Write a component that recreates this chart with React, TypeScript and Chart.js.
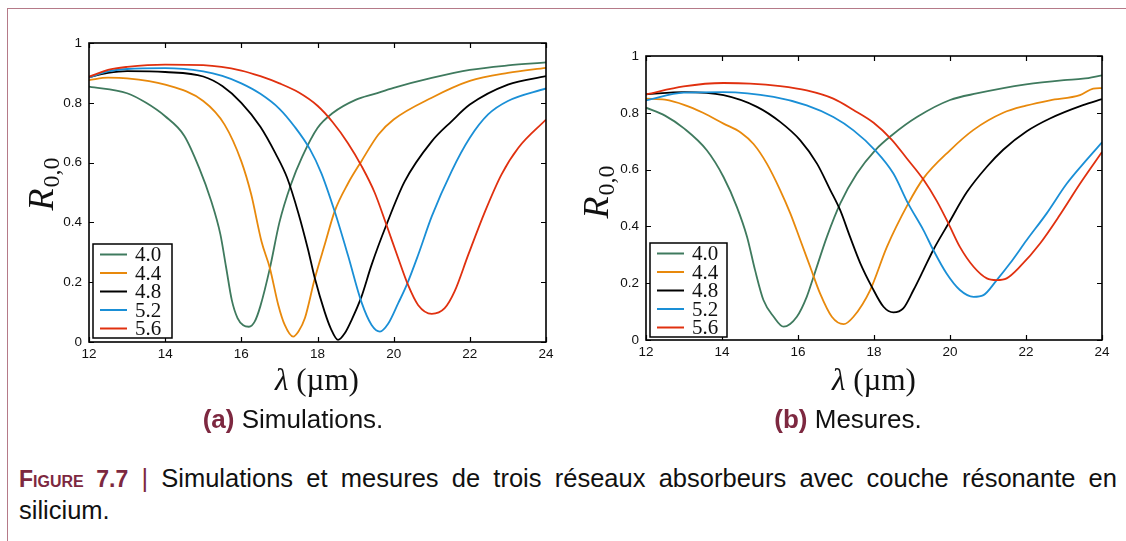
import React, { useEffect, useRef } from "react";
import { Chart, registerables } from "chart.js";

Chart.register(...registerables);

// ---------- data ----------
const seriesLabels = ["4.0", "4.4", "4.8", "5.2", "5.6"];
const seriesColors = ["#3f7a5e", "#e8890c", "#000000", "#1a8fd6", "#e0300f"];
const xTickValues = [12, 14, 16, 18, 20, 22, 24];
const yTickValues = [0, 0.2, 0.4, 0.6, 0.8, 1];

// (a) Simulations
const simX40 = [12, 13, 13.5, 14, 14.5, 14.9, 15.2, 15.45, 15.6, 15.75, 15.9, 16.05, 16.2, 16.35, 16.5, 16.75, 17.0, 17.3, 17.6, 18.0, 18.4, 19, 19.5, 20, 21, 22, 23, 24];
const simY40 = [0.854, 0.832, 0.8, 0.755, 0.69, 0.58, 0.475, 0.36, 0.25, 0.14, 0.08, 0.056, 0.051, 0.068, 0.12, 0.247, 0.4, 0.526, 0.62, 0.716, 0.766, 0.81, 0.83, 0.85, 0.883, 0.91, 0.925, 0.935];
const simX44 = [12, 12.5, 13, 14, 15, 15.56, 16.0, 16.26, 16.53, 16.75, 16.97, 17.14, 17.36, 17.5, 17.67, 17.93, 18.2, 18.45, 18.8, 19.15, 19.6, 20, 21, 22, 23, 24];
const simY44 = [0.876, 0.884, 0.882, 0.861, 0.806, 0.727, 0.604, 0.493, 0.336, 0.247, 0.124, 0.057, 0.018, 0.035, 0.08, 0.213, 0.33, 0.437, 0.53, 0.604, 0.694, 0.744, 0.817, 0.873, 0.9, 0.917];
const simX48 = [12, 12.5, 13, 14, 15, 15.5, 16, 16.5, 16.9, 17.2, 17.5, 17.75, 17.93, 18.19, 18.35, 18.54, 18.72, 18.9, 19.15, 19.42, 19.81, 20.29, 21, 21.52, 22, 23, 24];
const simY48 = [0.886, 0.9, 0.906, 0.903, 0.888, 0.856, 0.8, 0.72, 0.63, 0.55, 0.43, 0.31, 0.213, 0.1, 0.045, 0.007, 0.03, 0.075, 0.15, 0.258, 0.392, 0.537, 0.671, 0.738, 0.794, 0.861, 0.889];
const simX52 = [12, 12.5, 13, 14, 15, 15.5, 16, 16.5, 17, 17.4, 17.8, 18.1, 18.45, 18.8, 19.15, 19.42, 19.64, 19.85, 20.12, 20.34, 20.64, 21, 21.52, 22, 22.48, 23, 24];
const simY52 = [0.884, 0.905, 0.913, 0.916, 0.905, 0.89, 0.865, 0.83, 0.78, 0.72, 0.645, 0.565, 0.437, 0.29, 0.135, 0.057, 0.035, 0.06, 0.13, 0.19, 0.29, 0.42, 0.571, 0.683, 0.761, 0.806, 0.848];
const simX56 = [12, 12.5, 13, 14, 15, 16, 16.5, 17, 17.5, 18, 18.4, 18.8, 19.15, 19.5, 19.81, 20.12, 20.38, 20.64, 21, 21.34, 21.6, 21.96, 22.4, 22.83, 23.27, 24];
const simY56 = [0.887, 0.91, 0.92, 0.928, 0.926, 0.908, 0.889, 0.865, 0.835, 0.79, 0.735, 0.665, 0.59, 0.5, 0.392, 0.28, 0.19, 0.124, 0.094, 0.113, 0.169, 0.292, 0.437, 0.56, 0.649, 0.744];

// (b) Mesures
const mesX40 = [12, 12.5, 13, 13.6, 14.04, 14.39, 14.66, 14.87, 15.09, 15.36, 15.62, 15.97, 16.23, 16.41, 16.76, 17.11, 17.55, 18.03, 18.47, 19.13, 20, 20.7, 22, 23, 23.5, 24];
const mesY40 = [0.818, 0.79, 0.745, 0.668, 0.574, 0.469, 0.363, 0.246, 0.141, 0.082, 0.047, 0.082, 0.152, 0.223, 0.363, 0.48, 0.586, 0.668, 0.721, 0.785, 0.845, 0.868, 0.9, 0.915, 0.92, 0.932];
const mesX44 = [12, 12.5, 13, 13.5, 14.04, 14.5, 14.83, 15.18, 15.53, 15.8, 16.06, 16.32, 16.58, 16.89, 17.2, 17.46, 17.9, 18.34, 18.9, 19.3, 20.0, 20.61, 21.4, 22.0, 22.63, 23.42, 23.77, 24];
const mesY44 = [0.85, 0.846, 0.828, 0.8, 0.762, 0.73, 0.69, 0.621, 0.528, 0.445, 0.352, 0.258, 0.164, 0.082, 0.056, 0.082, 0.176, 0.328, 0.48, 0.569, 0.668, 0.739, 0.8, 0.825, 0.844, 0.862, 0.885, 0.887];
const mesX48 = [12, 13, 14.04, 14.92, 15.53, 16.06, 16.5, 16.85, 17.11, 17.37, 17.64, 17.94, 18.25, 18.51, 18.77, 19.04, 19.3, 19.56, 19.96, 20.44, 20.97, 21.4, 22.02, 22.63, 23.5, 24];
const mesY48 = [0.865, 0.873, 0.862, 0.821, 0.768, 0.703, 0.621, 0.528, 0.457, 0.363, 0.27, 0.188, 0.117, 0.097, 0.111, 0.176, 0.246, 0.317, 0.41, 0.52, 0.61, 0.67, 0.735, 0.78, 0.827, 0.848];
const mesX52 = [12, 12.99, 14.04, 15.36, 16.23, 16.93, 17.46, 18.03, 18.51, 18.9, 19.3, 19.56, 19.91, 20.26, 20.62, 20.88, 21.23, 21.58, 22.02, 22.54, 23.07, 23.6, 24];
const mesY52 = [0.844, 0.871, 0.873, 0.856, 0.826, 0.785, 0.738, 0.668, 0.586, 0.48, 0.387, 0.317, 0.234, 0.176, 0.152, 0.158, 0.211, 0.27, 0.352, 0.445, 0.55, 0.635, 0.696];
const mesX56 = [12, 12.99, 14.04, 14.74, 15.53, 16.23, 16.93, 17.46, 17.99, 18.47, 18.86, 19.3, 19.65, 19.96, 20.26, 20.62, 20.97, 21.23, 21.49, 21.84, 22.37, 22.89, 23.42, 24];
const mesY56 = [0.865, 0.893, 0.905, 0.903, 0.894, 0.879, 0.85, 0.81, 0.765, 0.705, 0.64, 0.565, 0.49, 0.41, 0.328, 0.258, 0.217, 0.211, 0.217, 0.258, 0.34, 0.44, 0.55, 0.662];

const simXs = [simX40, simX44, simX48, simX52, simX56];
const simYs = [simY40, simY44, simY48, simY52, simY56];
const mesXs = [mesX40, mesX44, mesX48, mesX52, mesX56];
const mesYs = [mesY40, mesY44, mesY48, mesY52, mesY56];

// ---------- styling ----------
const SANS = '"Liberation Sans", Arial, Helvetica, sans-serif';
const SERIF = '"Liberation Serif", "Times New Roman", serif';
const MAROON = "#7d2840";
const FRAME_PINK = "#b57a88";

function buildDatasets(xs: number[][], ys: number[][]) {
  return seriesLabels.map((label, i) => ({
    label,
    data: xs[i].map((x, j) => ({ x, y: ys[i][j] })),
    borderColor: seriesColors[i],
    backgroundColor: seriesColors[i],
    borderWidth: 1.8,
    pointRadius: 0,
    cubicInterpolationMode: "monotone" as const,
    fill: false,
    order: seriesLabels.length - 1 - i,
  }));
}

type PlotOpts = {
  yTitleCx: number;
  yTitleCy: number;
  legendBottomGap: number;
  legendWidth: number;
};

function makeDecorPlugin(o: PlotOpts) {
  return {
    id: "decor",
    afterDatasetsDraw(chart: any) {
      const { ctx, chartArea, scales } = chart;
      const { left, right, top, bottom } = chartArea;
      const xs = scales.x;
      const ys = scales.y;
      ctx.save();
      // frame
      ctx.strokeStyle = "#000";
      ctx.lineWidth = 1.6;
      ctx.strokeRect(left, top, right - left, bottom - top);
      // inward ticks
      ctx.lineWidth = 1.2;
      const tl = 5;
      ctx.beginPath();
      for (const v of xTickValues) {
        const px = Math.round(xs.getPixelForValue(v)) + 0.5;
        ctx.moveTo(px, bottom);
        ctx.lineTo(px, bottom - tl);
        ctx.moveTo(px, top);
        ctx.lineTo(px, top + tl);
      }
      for (const v of yTickValues) {
        const py = Math.round(ys.getPixelForValue(v)) + 0.5;
        ctx.moveTo(left, py);
        ctx.lineTo(left + tl, py);
        ctx.moveTo(right, py);
        ctx.lineTo(right - tl, py);
      }
      ctx.stroke();

      // legend
      const lw = o.legendWidth;
      const lh = 94;
      const lx = left + 4;
      const ly = bottom - o.legendBottomGap - lh;
      ctx.fillStyle = "#fff";
      ctx.fillRect(lx, ly, lw, lh);
      ctx.strokeStyle = "#000";
      ctx.lineWidth = 1.5;
      ctx.strokeRect(lx, ly, lw, lh);
      ctx.font = `21px ${SERIF}`;
      ctx.textBaseline = "middle";
      ctx.textAlign = "left";
      chart.data.datasets.forEach((ds: any, i: number) => {
        const cy = ly + 10.5 + i * 18.5;
        ctx.strokeStyle = ds.borderColor;
        ctx.lineWidth = 2;
        ctx.beginPath();
        ctx.moveTo(lx + 7, cy);
        ctx.lineTo(lx + 34, cy);
        ctx.stroke();
        ctx.fillStyle = "#111";
        ctx.fillText(ds.label, lx + 42, cy + 1);
      });

      // y-axis title R_{0,0}
      ctx.translate(o.yTitleCx, o.yTitleCy);
      ctx.rotate(-Math.PI / 2);
      ctx.fillStyle = "#111";
      ctx.textBaseline = "alphabetic";
      const fR = `italic 36px ${SERIF}`;
      const fS = `24px ${SERIF}`;
      ctx.font = fR;
      const wR = ctx.measureText("R").width;
      ctx.font = fS;
      const wS = ctx.measureText("0,0").width;
      const total = wR + wS + 1;
      const x0 = -total / 2;
      ctx.font = fR;
      ctx.fillText("R", x0, 10);
      ctx.font = fS;
      ctx.fillText("0,0", x0 + wR + 1, 16);
      ctx.restore();
    },
  };
}

function makeConfig(
  xs: number[][],
  ys: number[][],
  pad: { top: number; right: number },
  yWidth: number,
  xHeight: number,
  o: PlotOpts
): any {
  return {
    type: "line",
    data: { datasets: buildDatasets(xs, ys) },
    options: {
      animation: false,
      responsive: false,
      maintainAspectRatio: false,
      layout: { padding: { top: pad.top, right: pad.right, left: 0, bottom: 0 } },
      plugins: { legend: { display: false }, tooltip: { enabled: false }, title: { display: false } },
      scales: {
        x: {
          type: "linear",
          min: 12,
          max: 24,
          afterBuildTicks: (s: any) => {
            s.ticks = xTickValues.map((v) => ({ value: v }));
          },
          afterFit: (s: any) => {
            s.height = xHeight;
          },
          grid: { display: false, drawTicks: false },
          border: { display: false },
          ticks: {
            autoSkip: false,
            maxRotation: 0,
            padding: 4,
            color: "#111",
            font: { family: SANS, size: 13.5 },
            callback: (v: number) => String(v),
          },
        },
        y: {
          type: "linear",
          min: 0,
          max: 1,
          afterBuildTicks: (s: any) => {
            s.ticks = yTickValues.map((v) => ({ value: v }));
          },
          afterFit: (s: any) => {
            s.width = yWidth;
          },
          grid: { display: false, drawTicks: false },
          border: { display: false },
          ticks: {
            autoSkip: false,
            padding: 7,
            color: "#111",
            font: { family: SANS, size: 13.5 },
            callback: (v: number) => (v === 0 ? "0" : v === 1 ? "1" : v.toFixed(1)),
          },
        },
      },
    },
    plugins: [makeDecorPlugin(o)],
  };
}

function ChartCanvas(props: { left: number; width: number; height: number; config: any }) {
  const ref = useRef<HTMLCanvasElement | null>(null);
  useEffect(() => {
    if (!ref.current) return;
    const chart = new Chart(ref.current, props.config);
    return () => chart.destroy();
  }, []);
  return (
    <canvas
      ref={ref}
      width={props.width}
      height={props.height}
      style={{ position: "absolute", left: props.left, top: 0, width: props.width, height: props.height }}
    />
  );
}

export default function App() {
  const leftConfig = makeConfig(simXs, simYs, { top: 43, right: 54 }, 89, 58, {
    yTitleCx: 43,
    yTitleCy: 184,
    legendBottomGap: 4,
    legendWidth: 79,
  });
  const rightConfig = makeConfig(mesXs, mesYs, { top: 56, right: 24 }, 86, 60, {
    yTitleCx: 38,
    yTitleCy: 192,
    legendBottomGap: 3,
    legendWidth: 77,
  });

  const xTitle = (
    <span>
      <i>λ</i> (µm)
    </span>
  );

  const xTitleStyle: React.CSSProperties = {
    position: "absolute",
    top: 363,
    width: 200,
    textAlign: "center",
    fontFamily: SERIF,
    fontSize: 31,
    lineHeight: "34px",
  };
  const subCapStyle: React.CSSProperties = {
    position: "absolute",
    top: 404,
    width: 400,
    textAlign: "center",
    fontSize: 26,
    lineHeight: "30px",
  };

  return (
    <div
      style={{
        position: "absolute",
        left: 0,
        top: 0,
        width: 1126,
        height: 541,
        background: "#fff",
        overflow: "hidden",
        fontFamily: SANS,
        color: "#111",
      }}
    >
      <div style={{ position: "absolute", left: 7, top: 8, width: 1119, height: 0, borderTop: `1px solid ${FRAME_PINK}` }} />
      <div style={{ position: "absolute", left: 7, top: 8, width: 0, height: 533, borderLeft: `1px solid ${FRAME_PINK}` }} />

      <ChartCanvas left={0} width={600} height={400} config={leftConfig} />
      <ChartCanvas left={560} width={566} height={400} config={rightConfig} />

      <div style={{ ...xTitleStyle, left: 217 }}>{xTitle}</div>
      <div style={{ ...xTitleStyle, left: 774 }}>{xTitle}</div>

      <div style={{ ...subCapStyle, left: 93 }}>
        <b style={{ color: MAROON }}>(a)</b> Simulations.
      </div>
      <div style={{ ...subCapStyle, left: 648 }}>
        <b style={{ color: MAROON }}>(b)</b> Mesures.
      </div>

      <div
        style={{
          position: "absolute",
          left: 19,
          top: 462,
          width: 1098,
          fontSize: 25.5,
          lineHeight: "32px",
          textAlign: "justify",
          textAlignLast: "justify",
          whiteSpace: "nowrap",
        }}
      >
        <b style={{ color: MAROON, fontVariant: "small-caps", fontSize: 23 }}>Figure 7.7</b>{" "}
        <span style={{ color: MAROON }}>|</span> Simulations et mesures de trois réseaux absorbeurs avec couche résonante en
      </div>
      <div style={{ position: "absolute", left: 19, top: 494, fontSize: 25.5, lineHeight: "32px" }}>silicium.</div>
    </div>
  );
}
